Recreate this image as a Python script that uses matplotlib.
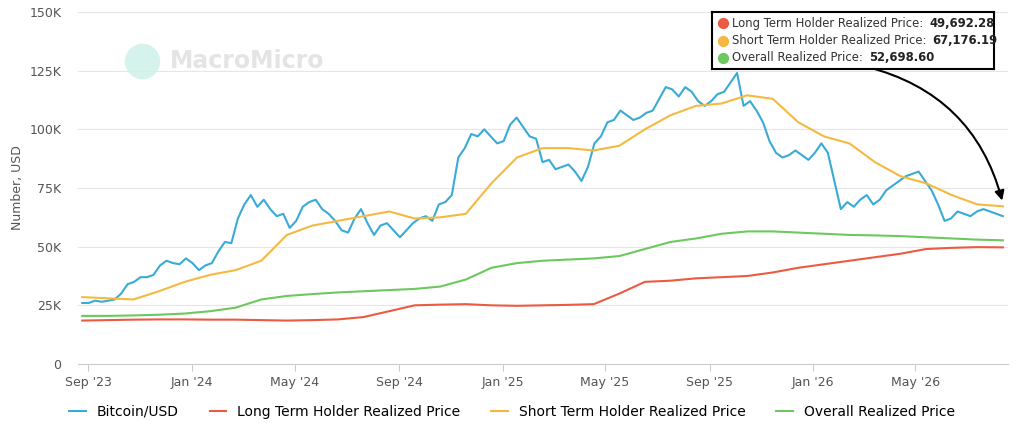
import matplotlib.pyplot as plt
import matplotlib.dates as mdates
import pandas as pd
from matplotlib.ticker import FuncFormatter

# Bitcoin/USD, ~weekly (K USD), Sep 2023 - Aug 2026
btc = [26, 26, 27, 26.5, 27, 27.5, 30, 34, 35, 37, 37, 38, 42, 44, 43, 42.5,
       45, 43, 40, 42, 43, 48, 52, 51.5, 62, 68, 72, 67, 70, 66, 63, 64,
       58, 61, 67, 69, 70, 66, 64, 61, 57, 56, 62, 66, 60, 55, 59, 60,
       57, 54, 57, 60, 62, 63, 61, 68, 69, 72, 88, 92, 98, 97, 100, 97,
       94, 95, 102, 105, 101, 97, 96, 86, 87, 83, 84, 85, 82, 78, 84, 94,
       97, 103, 104, 108, 106, 104, 105, 107, 108, 113, 118, 117, 114, 118, 116, 112,
       110, 112, 115, 116, 120, 124, 110, 112, 108, 103, 95, 90, 88, 89, 91, 89,
       87, 90, 94, 90, 78, 66, 69, 67, 70, 72, 68, 70, 74, 76, 78, 80,
       81, 82, 78, 74, 68, 61, 62, 65, 64, 63, 65, 66, 65, 64, 63]
btc_dates = pd.date_range("2023-08-25", "2026-08-12", periods=len(btc))

# realized prices, ~monthly (K USD)
sth = [28.5, 28, 27.5, 31, 35, 38, 40, 44, 55, 59, 61, 63, 65, 62, 62.5,
       64, 77, 88, 92, 92, 91, 93, 100, 106, 110, 111, 114.5, 113, 103,
       97, 94, 86, 80, 77, 72, 68, 67.2]
overall = [20.5, 20.5, 20.7, 21, 21.5, 22.5, 24, 27.5, 29, 29.8, 30.5, 31, 31.5,
           32, 33, 36, 41, 43, 44, 44.5, 45, 46, 49, 52, 53.5, 55.5, 56.5,
           56.5, 56, 55.5, 55, 54.8, 54.5, 54, 53.5, 53, 52.7]
lth = [18.5, 18.7, 18.9, 19, 19, 18.9, 18.9, 18.7, 18.5, 18.7, 19, 20, 22.5,
       25, 25.3, 25.5, 25, 24.8, 25, 25.2, 25.5, 30, 35, 35.5, 36.5, 37,
       37.5, 39, 41, 42.5, 44, 45.5, 47, 49, 49.5, 49.8, 49.7]
rp_dates = pd.date_range("2023-08-25", "2026-08-12", periods=len(sth))

c_btc, c_lth, c_sth, c_all = "#3aaad6", "#ea5b42", "#f5b942", "#6cc85f"

fig = plt.figure(figsize=(10.24, 4.29), dpi=100)
ax = fig.add_axes([78 / 1024, 65 / 429, 930 / 1024, 352 / 429])
ax.plot(btc_dates, [v * 1000 for v in btc], color=c_btc, lw=1.5, label="Bitcoin/USD")
ax.plot(rp_dates, [v * 1000 for v in lth], color=c_lth, lw=1.5, label="Long Term Holder Realized Price")
ax.plot(rp_dates, [v * 1000 for v in sth], color=c_sth, lw=1.5, label="Short Term Holder Realized Price")
ax.plot(rp_dates, [v * 1000 for v in overall], color=c_all, lw=1.5, label="Overall Realized Price")

ax.set_ylim(0, 150000)
ax.set_yticks(range(0, 150001, 25000))
ax.yaxis.set_major_formatter(FuncFormatter(lambda v, p: "0" if v == 0 else f"{int(v / 1000)}K"))
ax.set_xlim(pd.Timestamp("2023-08-20"), pd.Timestamp("2026-08-18"))
ax.xaxis.set_major_locator(mdates.MonthLocator(bymonth=[1, 5, 9]))
ax.xaxis.set_major_formatter(mdates.DateFormatter("%b '%y"))
ax.grid(axis="y", color="#e6e6e6", lw=0.8)
for s in ["top", "right", "left"]:
    ax.spines[s].set_visible(False)
ax.spines["bottom"].set_color("#cccccc")
ax.tick_params(axis="y", length=0, labelsize=9, colors="#555555", pad=12)
ax.tick_params(axis="x", length=5, color="#cccccc", labelsize=9, colors="#555555")
ax.set_ylabel("Number, USD", fontsize=9, color="#555555")

ax.text(0.099, 0.86, "MacroMicro", transform=ax.transAxes, fontsize=17,
        color="#e4e4e4", fontweight="bold", va="center")
ax.scatter([0.069], [0.86], s=600, color="#d5f3ec", transform=ax.transAxes, zorder=0)

fig.legend(loc="lower center", ncol=4, frameon=False, fontsize=10,
           bbox_to_anchor=(0.5, -0.005), handlelength=1.2, columnspacing=2.2)

# tooltip box
box = fig.add_axes([712 / 1024, 360 / 429, 282 / 1024, 57 / 429])
box.set_xticks([]); box.set_yticks([])
for s in box.spines.values():
    s.set_linewidth(1.5)
rows = [(c_lth, "Long Term Holder Realized Price:", "49,692.28"),
        (c_sth, "Short Term Holder Realized Price:", "67,176.19"),
        (c_all, "Overall Realized Price:", "52,698.60")]
for i, (c, lab, val) in enumerate(rows):
    y = 0.8 - i * 0.3
    box.scatter([0.04], [y], s=50, color=c)
    t = box.text(0.072, y, lab, fontsize=8.4, color="#333333", va="center")
    box.annotate(val, xy=(1, 0.5), xycoords=t, xytext=(4, 0), textcoords="offset points",
                 fontsize=8.4, fontweight="bold", color="#222222", va="center")
box.set_xlim(0, 1); box.set_ylim(0, 1)

ax.annotate("", xy=(pd.Timestamp("2026-08-12"), 68500), xytext=(pd.Timestamp("2026-03-01"), 127000),
            arrowprops=dict(arrowstyle="-|>", color="black", lw=1.5,
                            connectionstyle="arc3,rad=-0.3", mutation_scale=14))

fig.savefig("out.png", dpi=100)
